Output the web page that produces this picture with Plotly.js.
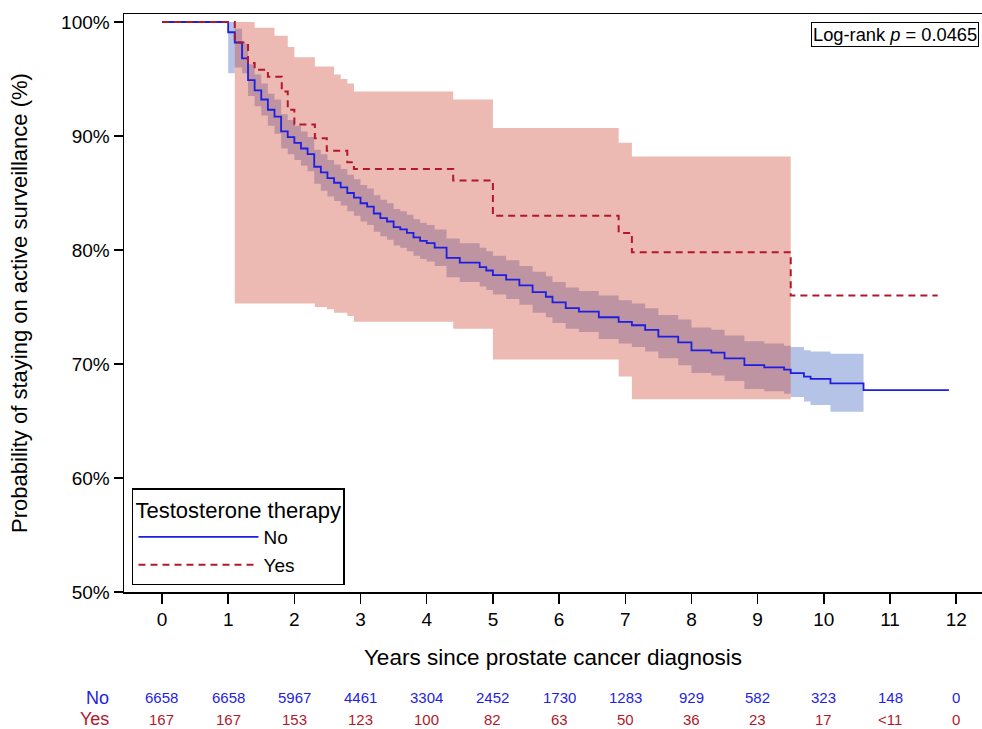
<!DOCTYPE html>
<html>
<head>
<meta charset="utf-8">
<script src="https://cdn.plot.ly/plotly-3.0.1.min.js"></script>
<style>html,body{margin:0;padding:0;background:#fff;}#chart{width:982px;height:729px;}</style>
</head>
<body>
<div id="chart"></div>
<script>
// ---- Data ----
// No testosterone therapy: KM estimate (%)
var blueT = [0,1.00,1.10,1.21,1.30,1.40,1.50,1.60,1.70,1.80,1.90,2.00,2.10,2.20,2.30,2.40,2.50,2.60,2.70,2.80,2.90,3.00,3.10,3.20,3.30,3.40,3.50,3.60,3.70,3.80,3.90,4.00,4.12,4.30,4.50,4.80,4.90,5.00,5.20,5.40,5.60,5.80,5.90,6.10,6.30,6.60,6.90,7.10,7.30,7.50,7.80,8.00,8.30,8.50,8.80,9.10,9.40,9.50,9.70,9.80,10.10,10.60,11.89];
var blueS = [100,99.1,98.2,96.8,94.9,94.0,93.2,92.3,91.7,90.4,89.9,89.4,88.9,88.4,87.3,86.8,86.3,85.9,85.5,85.0,84.6,84.1,83.8,83.2,82.8,82.5,82.0,81.8,81.5,81.1,80.8,80.6,80.2,79.3,78.9,78.5,78.2,77.8,77.4,76.9,76.3,75.9,75.4,74.9,74.6,74.1,73.7,73.4,73.0,72.4,71.9,71.2,71.0,70.5,69.9,69.7,69.5,69.2,68.9,68.7,68.3,67.7,67.7];
// No: 95% confidence band
var blueCiT = [1.00,1.10,1.21,1.30,1.40,1.50,1.60,1.70,1.80,1.90,2.00,2.10,2.20,2.30,2.40,2.50,2.60,2.70,2.80,2.90,3.00,3.10,3.20,3.30,3.40,3.50,3.60,3.70,3.80,3.90,4.00,4.12,4.30,4.50,4.80,4.90,5.00,5.20,5.40,5.60,5.80,5.90,6.10,6.30,6.60,6.90,7.10,7.30,7.50,7.80,8.00,8.30,8.50,8.80,9.10,9.40,9.50,9.70,9.80,10.10,10.60];
var blueHi = [100,99.4,98.1,96.3,95.4,94.6,93.7,93.2,91.9,91.4,90.9,90.4,89.9,88.8,88.4,87.9,87.5,87.1,86.6,86.2,85.7,85.4,84.8,84.4,84.1,83.6,83.4,83.1,82.7,82.4,82.2,81.8,81.0,80.6,80.2,79.9,79.5,79.1,78.6,78.1,77.7,77.2,76.7,76.4,76.0,75.6,75.3,74.9,74.3,73.9,73.2,73.0,72.5,72.0,71.8,71.6,71.5,71.2,71.1,70.9,70.9];
var blueLo = [95.5,96.0,95.5,93.5,92.6,91.8,90.9,90.2,88.9,88.4,87.9,87.4,86.9,85.8,85.2,84.7,84.3,83.9,83.4,83.0,82.5,82.2,81.6,81.2,80.9,80.4,80.2,79.9,79.5,79.2,79.0,78.6,77.6,77.2,76.8,76.5,76.1,75.7,75.2,74.5,74.1,73.6,73.1,72.8,72.2,71.8,71.5,71.1,70.5,69.9,69.2,69.0,68.5,67.8,67.6,67.4,67.1,66.7,66.4,65.8,65.8];

// Testosterone therapy: KM estimate (%)
var redT = [0,1.10,1.30,1.40,1.60,1.81,1.90,2.00,2.31,2.49,2.80,2.90,4.40,5.00,6.90,7.10,9.50,11.72];
var redS = [100,98.2,96.4,95.8,95.2,93.9,92.3,91.0,89.8,88.7,87.7,87.1,86.1,83.0,81.5,79.8,76.0,76.0];
// Yes: 95% confidence band
var redCiT = [1.10,1.21,1.40,1.70,1.90,2.00,2.31,2.49,2.60,2.70,2.80,2.90,4.40,5.00,6.90,7.10,9.50];
var redHi  = [100,100,99.5,98.8,97.8,96.9,96.1,96.1,95.4,95.0,94.6,93.9,93.2,90.7,89.4,88.2,88.2];
var redLo  = [75.3,75.3,75.3,75.3,75.3,75.3,75.0,74.8,74.5,74.5,74.2,73.7,73.1,70.4,68.9,66.9,66.9];

// Number at risk
var riskTimes = [0,1,2,3,4,5,6,7,8,9,10,11,12];
var riskNo  = ['6658','6658','5967','4461','3304','2452','1730','1283','929','582','323','148','0'];
var riskYes = ['167','167','153','123','100','82','63','50','36','23','17','<11','0'];

var yTicks = [50,60,70,80,90,100];
var xTicks = [0,1,2,3,4,5,6,7,8,9,10,11,12];

// ---- Style ----
var FONT = 'Liberation Sans, Arial, Helvetica, sans-serif';
var BLUE = 'rgb(30,30,225)';
var RED = 'rgb(178,24,43)';
var BLUEFILL = 'rgba(60,100,190,0.38)';
var REDFILL = 'rgba(205,70,55,0.38)';

function esc(s){ return String(s).replace(/&/g,'&amp;').replace(/</g,'&lt;').replace(/>/g,'&gt;'); }

var traces = [
  {x: blueCiT, y: blueLo, mode:'lines', line:{width:0, shape:'hv'}, showlegend:false, hoverinfo:'skip'},
  {x: blueCiT, y: blueHi, mode:'lines', line:{width:0, shape:'hv'}, fill:'tonexty', fillcolor:BLUEFILL, showlegend:false, hoverinfo:'skip'},
  {x: redCiT, y: redLo, mode:'lines', line:{width:0, shape:'hv'}, showlegend:false, hoverinfo:'skip'},
  {x: redCiT, y: redHi, mode:'lines', line:{width:0, shape:'hv'}, fill:'tonexty', fillcolor:REDFILL, showlegend:false, hoverinfo:'skip'},
  {x: blueT, y: blueS, mode:'lines', name:'No', line:{color:BLUE, width:1.8, shape:'hv'}},
  {x: redT, y: redS, mode:'lines', name:'Yes', line:{color:RED, width:2, shape:'hv', dash:'7px,5px'}}
];

var ann = [];
// at-risk table
var yNo = -0.1817, yYes = -0.2197;
ann.push({xref:'paper', yref:'paper', x:-0.0163, y:yNo, xanchor:'right', yanchor:'middle', text:'No', showarrow:false, height:19, borderpad:0, font:{family:FONT, size:18, color:BLUE}});
ann.push({xref:'paper', yref:'paper', x:-0.0163, y:yYes, xanchor:'right', yanchor:'middle', text:'Yes', showarrow:false, height:19, borderpad:0, font:{family:FONT, size:18, color:RED}});
for (var i = 0; i < riskTimes.length; i++) {
  ann.push({xref:'x', yref:'paper', x:riskTimes[i], y:yNo, xanchor:'center', yanchor:'middle', text:esc(riskNo[i]), showarrow:false, height:16, borderpad:0, font:{family:FONT, size:15, color:BLUE}});
  ann.push({xref:'x', yref:'paper', x:riskTimes[i], y:yYes, xanchor:'center', yanchor:'middle', text:esc(riskYes[i]), showarrow:false, height:16, borderpad:0, font:{family:FONT, size:15, color:RED}});
}
// log-rank box
ann.push({xref:'paper', yref:'paper', x:0.8007, y:0.9862, xanchor:'left', yanchor:'top', text:'Log-rank <i>p</i> = 0.0465', showarrow:false, bordercolor:'#000', borderwidth:1, borderpad:1, bgcolor:'#fff', font:{family:FONT, size:18.3, color:'#000'}});

var layout = {
  width: 982, height: 729,
  margin: {l:124, r:0, t:14, b:137, pad:0},
  paper_bgcolor:'#fff', plot_bgcolor:'#fff',
  font: {family: FONT, color:'#000'},
  showlegend: true,
  legend: {
    x: 0.0093, y: 0.0121, xanchor:'left', yanchor:'bottom',
    traceorder:'normal',
    bgcolor:'#fff', bordercolor:'#000', borderwidth:1.5,
    font:{family:FONT, size:19, color:'#000'},
    title:{text:'Testosterone therapy', font:{family:FONT, size:22, color:'#000'}},
    itemwidth: 120,
    tracegroupgap: 0
  },
  xaxis: {
    range:[-0.574, 12.39], tickvals:xTicks, ticktext:xTicks.map(String),
    showline:true, mirror:true, linecolor:'#000', linewidth:1.5,
    ticks:'outside', ticklen:10, tickwidth:1.5, tickcolor:'#000',
    showgrid:false, zeroline:false,
    tickfont:{family:FONT, size:19, color:'#000'},
    title:{text:'Years since prostate cancer diagnosis', font:{family:FONT, size:22.5, color:'#000'}, standoff:20},
    automargin:false
  },
  yaxis: {
    range:[50, 100.7], tickvals:yTicks, ticktext:yTicks.map(function(v){return v+'%';}),
    showline:true, mirror:false, linecolor:'#000', linewidth:1.5,
    ticks:'outside', ticklen:9, tickwidth:1.5, tickcolor:'#000',
    showgrid:false, zeroline:false,
    tickfont:{family:FONT, size:19, color:'#000'},
    title:{text:'Probability of staying on active surveillance (%)', font:{family:FONT, size:22, color:'#000'}, standoff:27},
    automargin:false
  },
  annotations: ann
};

Plotly.newPlot('chart', traces, layout, {staticPlot:true, displayModeBar:false});
</script>
</body>
</html>
